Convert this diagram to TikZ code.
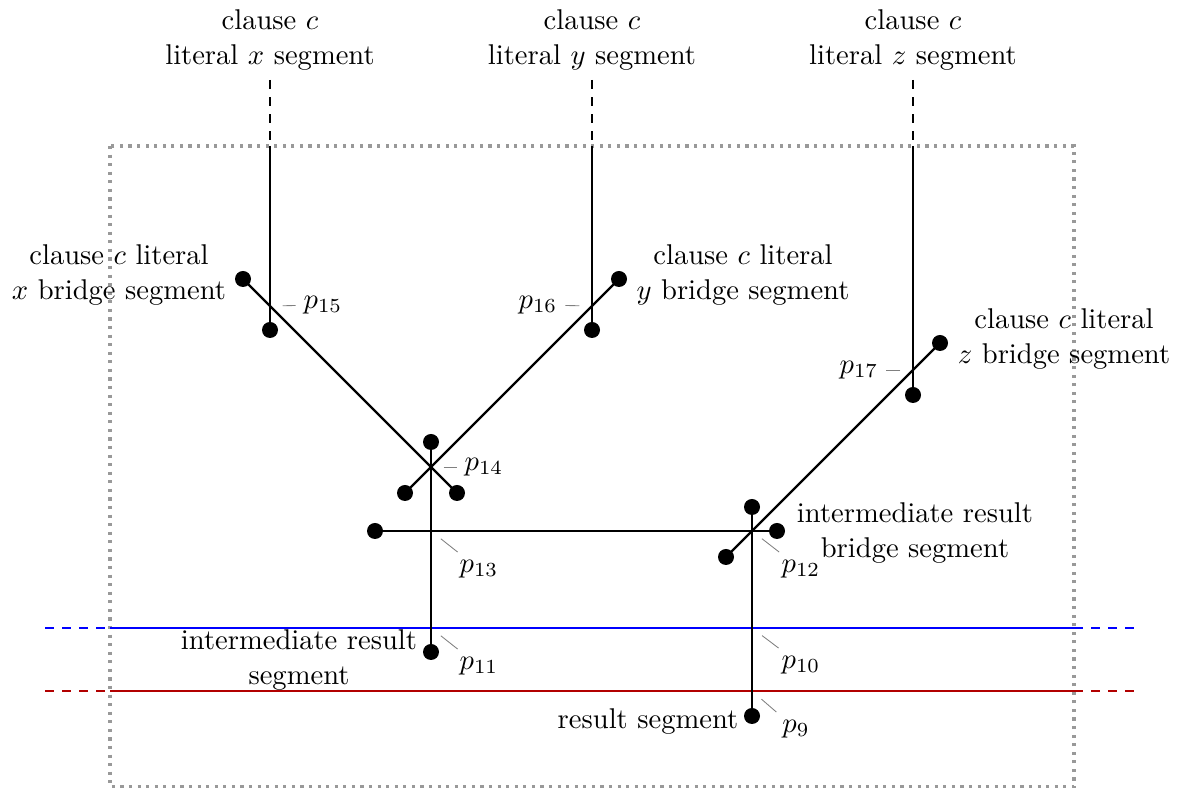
\documentclass[tikz,border=0pt]{standalone}
\begin{document}
\begin{tikzpicture}[x=0.35pt,y=-0.35pt,
  seg/.style={line width=0.8pt},
  dot/.style={circle,fill=black,inner sep=0pt,minimum size=5.6pt},
  ptn/.style={circle,inner sep=0pt,minimum size=8.4pt},
  plabel/.style={inner sep=2.6pt},
  pinline/.style={gray,line width=0.3pt},
  lbl/.style={align=center,inner sep=0pt},
  box/.style={gray!80,line width=1.1pt,dash pattern=on 1.1pt off 1.9pt},
  bluel/.style={blue,line width=0.7pt},
  redl/.style={red!70!black,line width=0.7pt}]
\useasboundingbox (0,0) rectangle (1185,788);

% dotted frame
\coordinate (f1) at (110,146);
\coordinate (f2) at (1074,787);
\draw[box] (f1) rectangle (f2);

% blue and red lines
\coordinate (b0) at (45,628); \coordinate (b1) at (110,628);
\coordinate (b2) at (1074,628); \coordinate (b3) at (1140,628);
\draw[bluel,dashed] (b0) -- (b1);
\draw[bluel] (b1) -- (b2);
\draw[bluel,dashed] (b2) -- (b3);
\coordinate (r0) at (45,691); \coordinate (r1) at (110,691);
\coordinate (r2) at (1074,691); \coordinate (r3) at (1140,691);
\draw[redl,dashed] (r0) -- (r1);
\draw[redl] (r1) -- (r2);
\draw[redl,dashed] (r2) -- (r3);

% dots
\node[dot] (xd) at (270,330) {};
\node[dot] (yd) at (592,330) {};
\node[dot] (zd) at (913,395) {};
\node[dot] (xb1) at (243,279) {};
\node[dot] (xb2) at (457,493) {};
\node[dot] (yb1) at (619,279) {};
\node[dot] (yb2) at (405,493) {};
\node[dot] (zb1) at (940,343) {};
\node[dot] (zb2) at (726,557) {};
\node[dot] (ir1) at (431,442) {};
\node[dot] (ir2) at (431,652) {};
\node[dot] (ib1) at (375,531) {};
\node[dot] (ib2) at (777,531) {};
\node[dot] (rs1) at (752,507) {};
\node[dot] (rs2) at (752,716) {};

% literal segments
\coordinate (xt) at (270,80); \coordinate (xm) at (270,146);
\coordinate (yt) at (592,80); \coordinate (ym) at (592,146);
\coordinate (zt) at (913,80); \coordinate (zm) at (913,146);
\draw[seg,dashed] (xt) -- (xm);
\draw[seg] (xm) -- (xd.center);
\draw[seg,dashed] (yt) -- (ym);
\draw[seg] (ym) -- (yd.center);
\draw[seg,dashed] (zt) -- (zm);
\draw[seg] (zm) -- (zd.center);

% bridges and other segments
\draw[seg] (xb1.center) -- (xb2.center);
\draw[seg] (yb1.center) -- (yb2.center);
\draw[seg] (zb1.center) -- (zb2.center);
\draw[seg] (ir1.center) -- (ir2.center);
\draw[seg] (ib1.center) -- (ib2.center);
\draw[seg] (rs1.center) -- (rs2.center);

% points
\node[ptn] (p15) at (270,306) {};
\node[ptn] (p16) at (592,306) {};
\node[ptn] (p17) at (913,370) {};
\node[ptn] (p14) at (431,467) {};
\node[ptn] (p13) at (431,531) {};
\node[ptn] (p12) at (752,531) {};
\node[ptn] (p11) at (431,628) {};
\node[ptn] (p10) at (752,628) {};
\node[ptn] (p9) at (752,691) {};

\node[plabel] (l15) at (323,305) {$p_{15}$};
\node[plabel] (l16) at (538,305) {$p_{16}$};
\node[plabel] (l17) at (859,370) {$p_{17}$};
\node[plabel] (l14) at (484,467) {$p_{14}$};
\node[plabel] (l13) at (479,569) {$p_{13}$};
\node[plabel] (l12) at (801,569) {$p_{12}$};
\node[plabel] (l11) at (479,666) {$p_{11}$};
\node[plabel] (l10) at (801,665) {$p_{10}$};
\node[plabel] (l9) at (796,729) {$p_{9}$};

\draw[pinline] (p15) -- (l15);
\draw[pinline] (p16) -- (l16);
\draw[pinline] (p17) -- (l17);
\draw[pinline] (p14) -- (l14);
\draw[pinline] (p13) -- (l13);
\draw[pinline] (p12) -- (l12);
\draw[pinline] (p11) -- (l11);
\draw[pinline] (p10) -- (l10);
\draw[pinline] (p9) -- (l9);

% text labels
\node[lbl] (tx) at (270,40) {clause $c$\\literal $x$ segment};
\node[lbl] (ty) at (592,40) {clause $c$\\literal $y$ segment};
\node[lbl] (tz) at (913,40) {clause $c$\\literal $z$ segment};
\node[lbl] (bx) at (119,275) {clause $c$ literal\\$x$ bridge segment};
\node[lbl] (by) at (743,275) {clause $c$ literal\\$y$ bridge segment};
\node[lbl] (bz) at (1064,339) {clause $c$ literal\\$z$ bridge segment};
\node[lbl] (ibt) at (915,533) {intermediate result\\bridge segment};
\node[lbl] (irt) at (299,660) {intermediate result\\segment};
\node[lbl] (rst) at (648,722) {result segment};
\end{tikzpicture}
\end{document}
